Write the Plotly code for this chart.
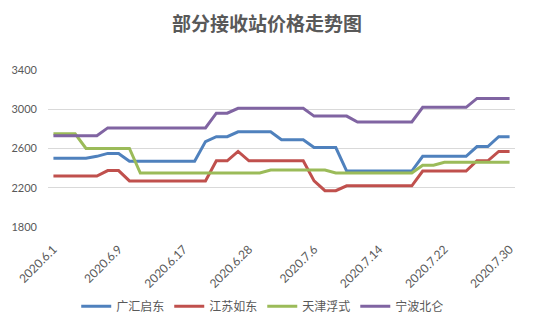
import plotly.graph_objects as go

dates = ["2020.6.1","2020.6.2","2020.6.3","2020.6.4","2020.6.5","2020.6.8","2020.6.9",
         "2020.6.10","2020.6.11","2020.6.12","2020.6.15","2020.6.16","2020.6.17",
         "2020.6.18","2020.6.19","2020.6.22","2020.6.23","2020.6.24","2020.6.28",
         "2020.6.29","2020.6.30","2020.7.1","2020.7.2","2020.7.3","2020.7.6",
         "2020.7.7","2020.7.8","2020.7.9","2020.7.10","2020.7.13","2020.7.14",
         "2020.7.15","2020.7.16","2020.7.17","2020.7.20","2020.7.21","2020.7.22",
         "2020.7.23","2020.7.24","2020.7.27","2020.7.28","2020.7.29","2020.7.30"]

guanghui = [2500,2500,2500,2500,2520,2550,2550,2470,2470,2470,2470,2470,2470,2470,
            2670,2720,2720,2770,2770,2770,2770,2690,2690,2690,2610,2610,2610,2370,
            2370,2370,2370,2370,2370,2370,2520,2520,2520,2520,2520,2620,2620,2720,2720]
jiangsu = [2320,2320,2320,2320,2320,2375,2375,2270,2270,2270,2270,2270,2270,2270,
           2270,2475,2475,2570,2475,2475,2475,2475,2475,2475,2270,2170,2170,2220,
           2220,2220,2220,2220,2220,2220,2370,2370,2370,2370,2370,2475,2475,2570,2570]
tianjin = [2750,2750,2750,2600,2600,2600,2600,2600,2350,2350,2350,2350,2350,2350,
           2350,2350,2350,2350,2350,2350,2380,2380,2380,2380,2380,2380,2350,2350,
           2350,2350,2350,2350,2350,2350,2430,2430,2460,2460,2460,2460,2460,2460,2460]
ningbo = [2730,2730,2730,2730,2730,2810,2810,2810,2810,2810,2810,2810,2810,2810,
          2810,2960,2960,3010,3010,3010,3010,3010,3010,3010,2930,2930,2930,2930,
          2870,2870,2870,2870,2870,2870,3020,3020,3020,3020,3020,3110,3110,3110,3110]

names = ["广汇启东", "江苏如东", "天津浮式", "宁波北仑"]
colors = ["#4F81BD", "#C0504D", "#9BBB59", "#8064A2"]
series = [guanghui, jiangsu, tianjin, ningbo]

tick_vals = dates[::6]
y_ticks = [1800, 2200, 2600, 3000, 3400]

fig = go.Figure()
for n, c, s in zip(names, colors, series):
    fig.add_trace(go.Scatter(x=dates, y=s, name=n, mode="lines",
                             line=dict(color=c, width=3)))

fig.update_layout(
    width=534, height=325,
    margin=dict(l=48, r=19, t=70, b=98, autoexpand=False),
    paper_bgcolor="white", plot_bgcolor="white",
    font=dict(family="Lato, Noto Sans CJK SC, sans-serif", size=11, color="#595959"),
    title=dict(text="<b>部分接收站价格走势图</b>", x=0.5, xanchor="center",
               y=0.926, yanchor="middle",
               font=dict(family="Noto Sans CJK SC", size=19, color="#595959")),
    showlegend=True,
    legend=dict(orientation="h", xref="container", yref="container",
                x=0.492, xanchor="center", y=0.058, yanchor="middle",
                font=dict(family="Noto Sans CJK SC", size=12, color="#595959"),
                itemwidth=30, tracegroupgap=0),
)
fig.update_xaxes(type="category", range=[-0.5, len(dates) - 0.5], automargin=False,
                 tickmode="array", tickvals=tick_vals, ticktext=tick_vals,
                 tickangle=-45, showgrid=False, showline=False, zeroline=False,
                 ticklabelstandoff=12,
                 tickfont=dict(size=12, color="#595959"))
fig.update_yaxes(range=[1800, 3400], tickvals=y_ticks, showgrid=True, automargin=False,
                 gridcolor="#D9D9D9", gridwidth=1, zeroline=False, showline=False,
                 ticklabelstandoff=10, tickfont=dict(size=11, color="#595959"))

fig.write_html("out.html")
